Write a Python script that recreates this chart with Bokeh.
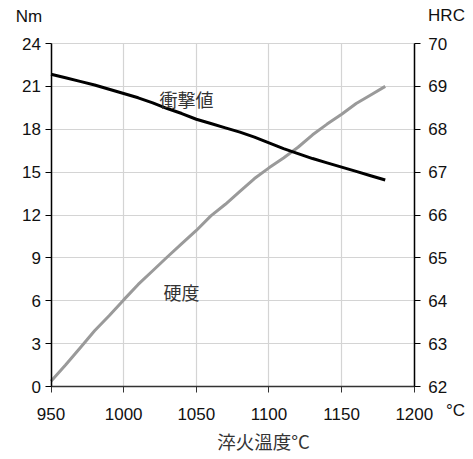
from bokeh.plotting import figure
from bokeh.models import LinearAxis, Range1d, FixedTicker, Label, Grid
from bokeh.embed import file_html
from bokeh.resources import INLINE

# Data
temps = [950, 960, 970, 980, 990, 1000, 1010, 1020, 1030, 1040, 1050, 1060,
         1070, 1080, 1090, 1100, 1110, 1120, 1130, 1140, 1150, 1160, 1170, 1180]
impact_nm = [21.85, 21.6, 21.35, 21.1, 20.8, 20.5, 20.2, 19.85, 19.45, 19.1, 18.7, 18.4,
             18.1, 17.8, 17.45, 17.05, 16.65, 16.3, 15.95, 15.65, 15.35, 15.05, 14.75, 14.45]
hardness_hrc = [62.12, 62.5, 62.9, 63.3, 63.65, 64.02, 64.38, 64.7, 65.02, 65.33, 65.64, 65.98,
                66.25, 66.55, 66.85, 67.1, 67.33, 67.58, 67.87, 68.12, 68.35, 68.6, 68.8, 69.0]
x_ticks = [950, 1000, 1050, 1100, 1150, 1200]
left_ticks = [0, 3, 6, 9, 12, 15, 18, 21, 24]
right_ticks = [62, 63, 64, 65, 66, 67, 68, 69, 70]

FONT = "Liberation Sans"
CJK = "Noto Sans CJK JP"

# Layout: the frame covers the whole canvas; the plotting box sits inside it
W, H = 473, 459
BOX_L, BOX_R, BOX_T, BOX_B = 50.5, 413.8, 43.0, 386.0

xs = (x_ticks[-1] - x_ticks[0]) / (BOX_R - BOX_L)
ys = (left_ticks[-1] - left_ticks[0]) / (BOX_B - BOX_T)
hs = (right_ticks[-1] - right_ticks[0]) / (BOX_B - BOX_T)

x_range = Range1d(x_ticks[0] - BOX_L * xs, x_ticks[-1] + (W - BOX_R) * xs)
y_range = Range1d(left_ticks[0] - (H - BOX_B) * ys, left_ticks[-1] + BOX_T * ys)
hrc_range = Range1d(right_ticks[0] - (H - BOX_B) * hs, right_ticks[-1] + BOX_T * hs)

p = figure(width=W, height=H, output_backend="svg", toolbar_location=None,
           x_range=x_range, y_range=y_range,
           x_axis_location=None, y_axis_location=None)
p.min_border = 0
p.min_border_left = 0
p.min_border_right = 0
p.min_border_top = 0
p.min_border_bottom = 0
p.background_fill_color = "white"
p.border_fill_color = "white"
p.outline_line_color = None
p.extra_y_ranges = {"hrc": hrc_range}
for g in p.grid:
    g.visible = False


def style_axis(ax):
    ax.major_label_text_font = FONT
    ax.major_label_text_font_size = "17px"
    ax.major_label_text_color = "#111111"
    ax.minor_tick_line_color = None
    ax.major_tick_in = 0
    ax.major_tick_out = 6
    ax.axis_line_width = 1.5


xaxis = LinearAxis(ticker=FixedTicker(ticks=x_ticks), fixed_location=left_ticks[0],
                   bounds=(x_ticks[0], x_ticks[-1]))
style_axis(xaxis)
xaxis.axis_line_color = "#333333"
xaxis.major_tick_line_color = "#333333"
xaxis.major_label_standoff = 15
p.add_layout(xaxis, "below")

laxis = LinearAxis(ticker=FixedTicker(ticks=left_ticks), fixed_location=x_ticks[0],
                   bounds=(left_ticks[0], left_ticks[-1]))
style_axis(laxis)
laxis.axis_line_color = "#000000"
laxis.major_label_standoff = 4
p.add_layout(laxis, "left")

raxis = LinearAxis(y_range_name="hrc", ticker=FixedTicker(ticks=right_ticks),
                   fixed_location=x_ticks[-1], bounds=(right_ticks[0], right_ticks[-1]))
style_axis(raxis)
raxis.axis_line_color = "#000000"
raxis.major_label_standoff = 8
p.add_layout(raxis, "right")

GRID_COLOR = "#d4d4d4"
try:
    xg = Grid(dimension=0, ticker=FixedTicker(ticks=x_ticks),
              cross_bounds=(left_ticks[0], left_ticks[-1]))
    yg = Grid(dimension=1, ticker=FixedTicker(ticks=left_ticks),
              cross_bounds=(x_ticks[0], x_ticks[-1]))
    for g in (xg, yg):
        g.grid_line_color = GRID_COLOR
        g.grid_line_width = 1.2
        p.add_layout(g)
except AttributeError:
    p.segment(x0=x_ticks, y0=[left_ticks[0]] * len(x_ticks),
              x1=x_ticks, y1=[left_ticks[-1]] * len(x_ticks),
              line_color=GRID_COLOR, line_width=1.2, level="underlay")
    p.segment(x0=[x_ticks[0]] * len(left_ticks), y0=left_ticks,
              x1=[x_ticks[-1]] * len(left_ticks), y1=left_ticks,
              line_color=GRID_COLOR, line_width=1.2, level="underlay")

p.line(temps, hardness_hrc, y_range_name="hrc", line_color="#9a9a9a", line_width=3)
p.line(temps, impact_nm, line_color="#000000", line_width=3)


def lab_px(px, py, t, font=FONT, size="17px", color="#111111"):
    """Place a text centred on a pixel position of the canvas."""
    x = x_ticks[0] + (px - BOX_L) * xs
    y = left_ticks[-1] - (py - BOX_T) * ys
    p.add_layout(Label(x=x, y=y, text=t, text_font=font, text_font_size=size,
                       text_color=color, text_align="center", text_baseline="middle"))


lab_px(186, 98, "衝撃値", font=CJK, size="18px", color="#333333")
lab_px(181, 291, "硬度", font=CJK, size="18px", color="#333333")
lab_px(28.5, 16, "Nm")
lab_px(446, 15, "HRC")
lab_px(455, 410, "°C")
lab_px(263, 440, "淬火溫度°C", font=CJK, size="18.5px", color="#333333")

open("out.html", "w").write(file_html(p, INLINE))
